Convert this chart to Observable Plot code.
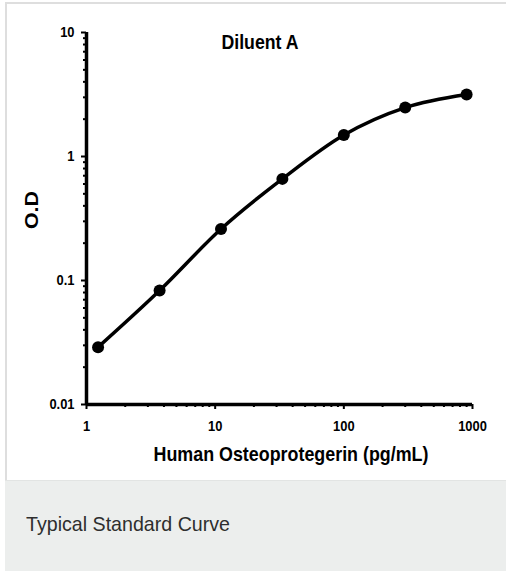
<!DOCTYPE html>
<html>
<head>
<meta charset="utf-8">
<script src="https://cdn.jsdelivr.net/npm/d3@7"></script>
<script src="https://cdn.jsdelivr.net/npm/@observablehq/plot@0.6"></script>
<style>
  html, body { margin: 0; padding: 0; background: #fff; }
  body { width: 506px; height: 571px; position: relative; overflow: hidden; }
  #panel { position: absolute; left: 0; top: 0; width: 506px; height: 480px; }
  #panel g[aria-label$="tick label"], #panel g[aria-label$="tick label"] text {
    font-size: 15px !important; font-weight: bold; font-family: "Liberation Sans", Arial, sans-serif;
  }
  #bt { position: absolute; left: 5px; top: 2px; width: 501px; height: 2px; background: #dedede; }
  #bl { position: absolute; left: 5px; top: 2px; width: 2px; height: 478px; background: #dedede; }
  #cap { position: absolute; left: 5px; top: 480px; width: 501px; height: 91px; background: #eceeed;
         border-top: 1px solid #e2e4e3; box-sizing: border-box;
         font-family: "Liberation Sans", Arial, sans-serif; font-size: 21px; line-height: 21px; color: #2e2e2e; }
  #cap span { position: absolute; left: 21px; top: 32px; white-space: nowrap; transform-origin: 0 0; }
</style>
</head>
<body>
<div id="panel"></div>
<div id="bt"></div>
<div id="bl"></div>
<div id="cap"><span></span></div>
<script>
const concentration = [1.23, 3.7, 11.1, 33.3, 100, 300, 900];
const od = [0.029, 0.083, 0.26, 0.66, 1.49, 2.48, 3.16];
const xMajor = [1, 10, 100, 1000];
const yMajor = [0.01, 0.1, 1, 10];
const title = "Diluent A";
const xLabel = "Human Osteoprotegerin (pg/mL)";
const yLabel = "O.D";
const caption = "Typical Standard Curve";

const data = concentration.map((c, i) => ({c, od: od[i]}));
const minor = (majors) => {
  const out = [];
  for (let k = 0; k < majors.length - 1; k++)
    for (let m = 2; m <= 9; m++) out.push(majors[k] * m);
  return out;
};
const xMinor = minor(xMajor);
const yMinor = minor(yMajor);

const sans = "'Liberation Sans', Arial, sans-serif";

const chart = Plot.plot({
  width: 506,
  height: 480,
  marginLeft: 86,
  marginRight: 34,
  marginTop: 32,
  marginBottom: 76,
  style: {fontFamily: sans, fontWeight: "bold", fontSize: "15px", color: "#000", background: "transparent", overflow: "visible"},
  x: {type: "log", domain: [1, 1000]},
  y: {type: "log", domain: [0.01, 10]},
  marks: [
    Plot.axisY(yMinor, {tickSize: 3, strokeWidth: 2, tickFormat: () => "", label: null}),
    Plot.axisY(yMajor, {tickSize: 5, strokeWidth: 2, tickPadding: 7, tickFormat: d => String(d), label: null}),
    Plot.axisX(xMinor, {tickSize: 3, strokeWidth: 2, tickFormat: () => "", label: null}),
    Plot.axisX(xMajor, {tickSize: 5, strokeWidth: 2, tickPadding: 11, tickFormat: d => String(d), label: null}),
    Plot.ruleX([1], {strokeWidth: 3.5, stroke: "#000"}),
    Plot.ruleY([0.01], {strokeWidth: 3.5, stroke: "#000", x1: 1, x2: 1000}),
    Plot.line(data, {x: "c", y: "od", curve: "monotone-x", stroke: "#000", strokeWidth: 3.5}),
    Plot.dot(data, {x: "c", y: "od", r: 6, fill: "#000", stroke: "none"}),
    Plot.text([title], {frameAnchor: "top", textAnchor: "middle", lineAnchor: "middle", text: d => d, dx: -19.5, dy: 10, fontSize: 21, fontWeight: "bold", fill: "#000", className: "t-title"}),
    Plot.text([xLabel], {frameAnchor: "bottom", textAnchor: "middle", lineAnchor: "middle", text: d => d, dx: 11.5, dy: 49.5, fontSize: 21, fontWeight: "bold", fill: "#000", className: "t-xlabel"}),
    Plot.text([yLabel], {frameAnchor: "left", textAnchor: "middle", lineAnchor: "middle", text: d => d, dx: -54.5, dy: -8.5, rotate: -90, fontSize: 18, fontWeight: "bold", fill: "#000", className: "t-ylabel"})
  ]
});
document.getElementById("panel").appendChild(chart);

// condensed look of the original lettering
const fit = (cls, len) => {
  chart.querySelectorAll(`g.${cls} text`).forEach(t => {
    t.setAttribute("textLength", len);
    t.setAttribute("lengthAdjust", "spacingAndGlyphs");
  });
};
fit("t-title", 77);
fit("t-xlabel", 275);
fit("t-ylabel", 38);
chart.querySelectorAll('g[aria-label$="tick label"] text').forEach(t => {
  const L = t.getComputedTextLength();
  if (L > 0) {
    t.setAttribute("textLength", L * 0.86);
    t.setAttribute("lengthAdjust", "spacingAndGlyphs");
  }
});

const span = document.querySelector("#cap span");
span.textContent = caption;
const w = span.getBoundingClientRect().width;
span.style.transform = `scaleX(${204 / w})`;
</script>
</body>
</html>
